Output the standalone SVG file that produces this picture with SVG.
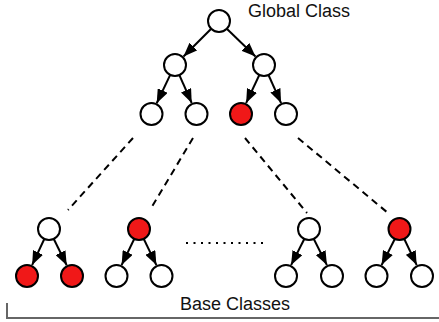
<svg xmlns="http://www.w3.org/2000/svg" width="439" height="322" viewBox="0 0 439 322">
<style>
.n{fill:#fff;stroke:#000;stroke-width:2}
.r{fill:#f01818;stroke:#000;stroke-width:2}
.e{stroke:#000;stroke-width:2;fill:none;marker-end:url(#ah)}
.d{stroke:#000;stroke-width:2;fill:none;stroke-dasharray:7 5}
.t{font-family:"Liberation Sans",Arial,sans-serif;font-size:18px;fill:#111}
</style>
<defs>
<marker id="ah" markerUnits="userSpaceOnUse" markerWidth="15" markerHeight="11" refX="14" refY="5.5" orient="auto">
<path d="M0,0 L14,5.5 L0,11 z" fill="#000"/>
</marker>
</defs>
<g id="connectors">
<line class="e" x1="211.2" y1="28.8" x2="183.5" y2="56.5"/>
<line class="e" x1="226.8" y1="28.8" x2="255.5" y2="56.5"/>
<line class="e" x1="170.2" y1="74.9" x2="156.7" y2="103.2"/>
<line class="e" x1="179.4" y1="75.1" x2="191.7" y2="103"/>
<line class="e" x1="259.3" y1="75" x2="246.1" y2="103.1"/>
<line class="e" x1="268.5" y1="75" x2="281.1" y2="103.1"/>
<line class="e" x1="44.3" y1="239" x2="32.1" y2="265.1"/>
<line class="e" x1="53.8" y1="239" x2="66.7" y2="265.2"/>
<line class="e" x1="134.2" y1="239" x2="121.6" y2="265.1"/>
<line class="e" x1="143.8" y1="239" x2="156.4" y2="265.1"/>
<line class="e" x1="304.3" y1="239" x2="291.1" y2="265.1"/>
<line class="e" x1="313.8" y1="239" x2="326.9" y2="265.1"/>
<line class="e" x1="394.8" y1="239" x2="381.6" y2="265.1"/>
<line class="e" x1="404.3" y1="239" x2="416.7" y2="265.1"/>
<line class="d" x1="133" y1="138" x2="68" y2="210"/>
<line class="d" x1="193" y1="138" x2="150" y2="210"/>
<line class="d" x1="245" y1="138" x2="307" y2="213"/>
<line class="d" x1="298" y1="138" x2="388" y2="213"/>
<line x1="186" y1="243" x2="264" y2="243" stroke="#000" stroke-width="2" stroke-dasharray="2 5.5"/>
<path d="M7,303 V318 H439" fill="none" stroke="#666" stroke-width="2"/>
</g>
<g id="root"><circle class="n" cx="219" cy="21" r="11"/></g>
<g id="l2a"><circle class="n" cx="175" cy="65" r="11"/></g>
<g id="l2b"><circle class="n" cx="264" cy="65" r="11"/></g>
<g id="l3a"><circle class="n" cx="151.5" cy="114" r="11"/></g>
<g id="l3b"><circle class="n" cx="196.5" cy="114" r="11"/></g>
<g id="l3c"><circle class="r" cx="241" cy="114" r="11"/></g>
<g id="l3d"><circle class="n" cx="286" cy="114" r="11"/></g>
<g id="b1"><circle class="n" cx="49" cy="229" r="11"/></g>
<g id="b1a"><circle class="r" cx="27" cy="276" r="11"/></g>
<g id="b1b"><circle class="r" cx="72" cy="276" r="11"/></g>
<g id="b2"><circle class="r" cx="139" cy="229" r="11"/></g>
<g id="b2a"><circle class="n" cx="116.5" cy="276" r="11"/></g>
<g id="b2b"><circle class="n" cx="161.5" cy="276" r="11"/></g>
<g id="b3"><circle class="n" cx="309" cy="229" r="11"/></g>
<g id="b3a"><circle class="n" cx="286" cy="276" r="11"/></g>
<g id="b3b"><circle class="n" cx="332" cy="276" r="11"/></g>
<g id="b4"><circle class="r" cx="399.5" cy="229" r="11"/></g>
<g id="b4a"><circle class="n" cx="376.5" cy="276" r="11"/></g>
<g id="b4b"><circle class="n" cx="422" cy="276" r="11"/></g>
<g id="labels">
<text class="t" x="248" y="17">Global Class</text>
<text class="t" x="180" y="310">Base Classes</text>
</g>
</svg>
